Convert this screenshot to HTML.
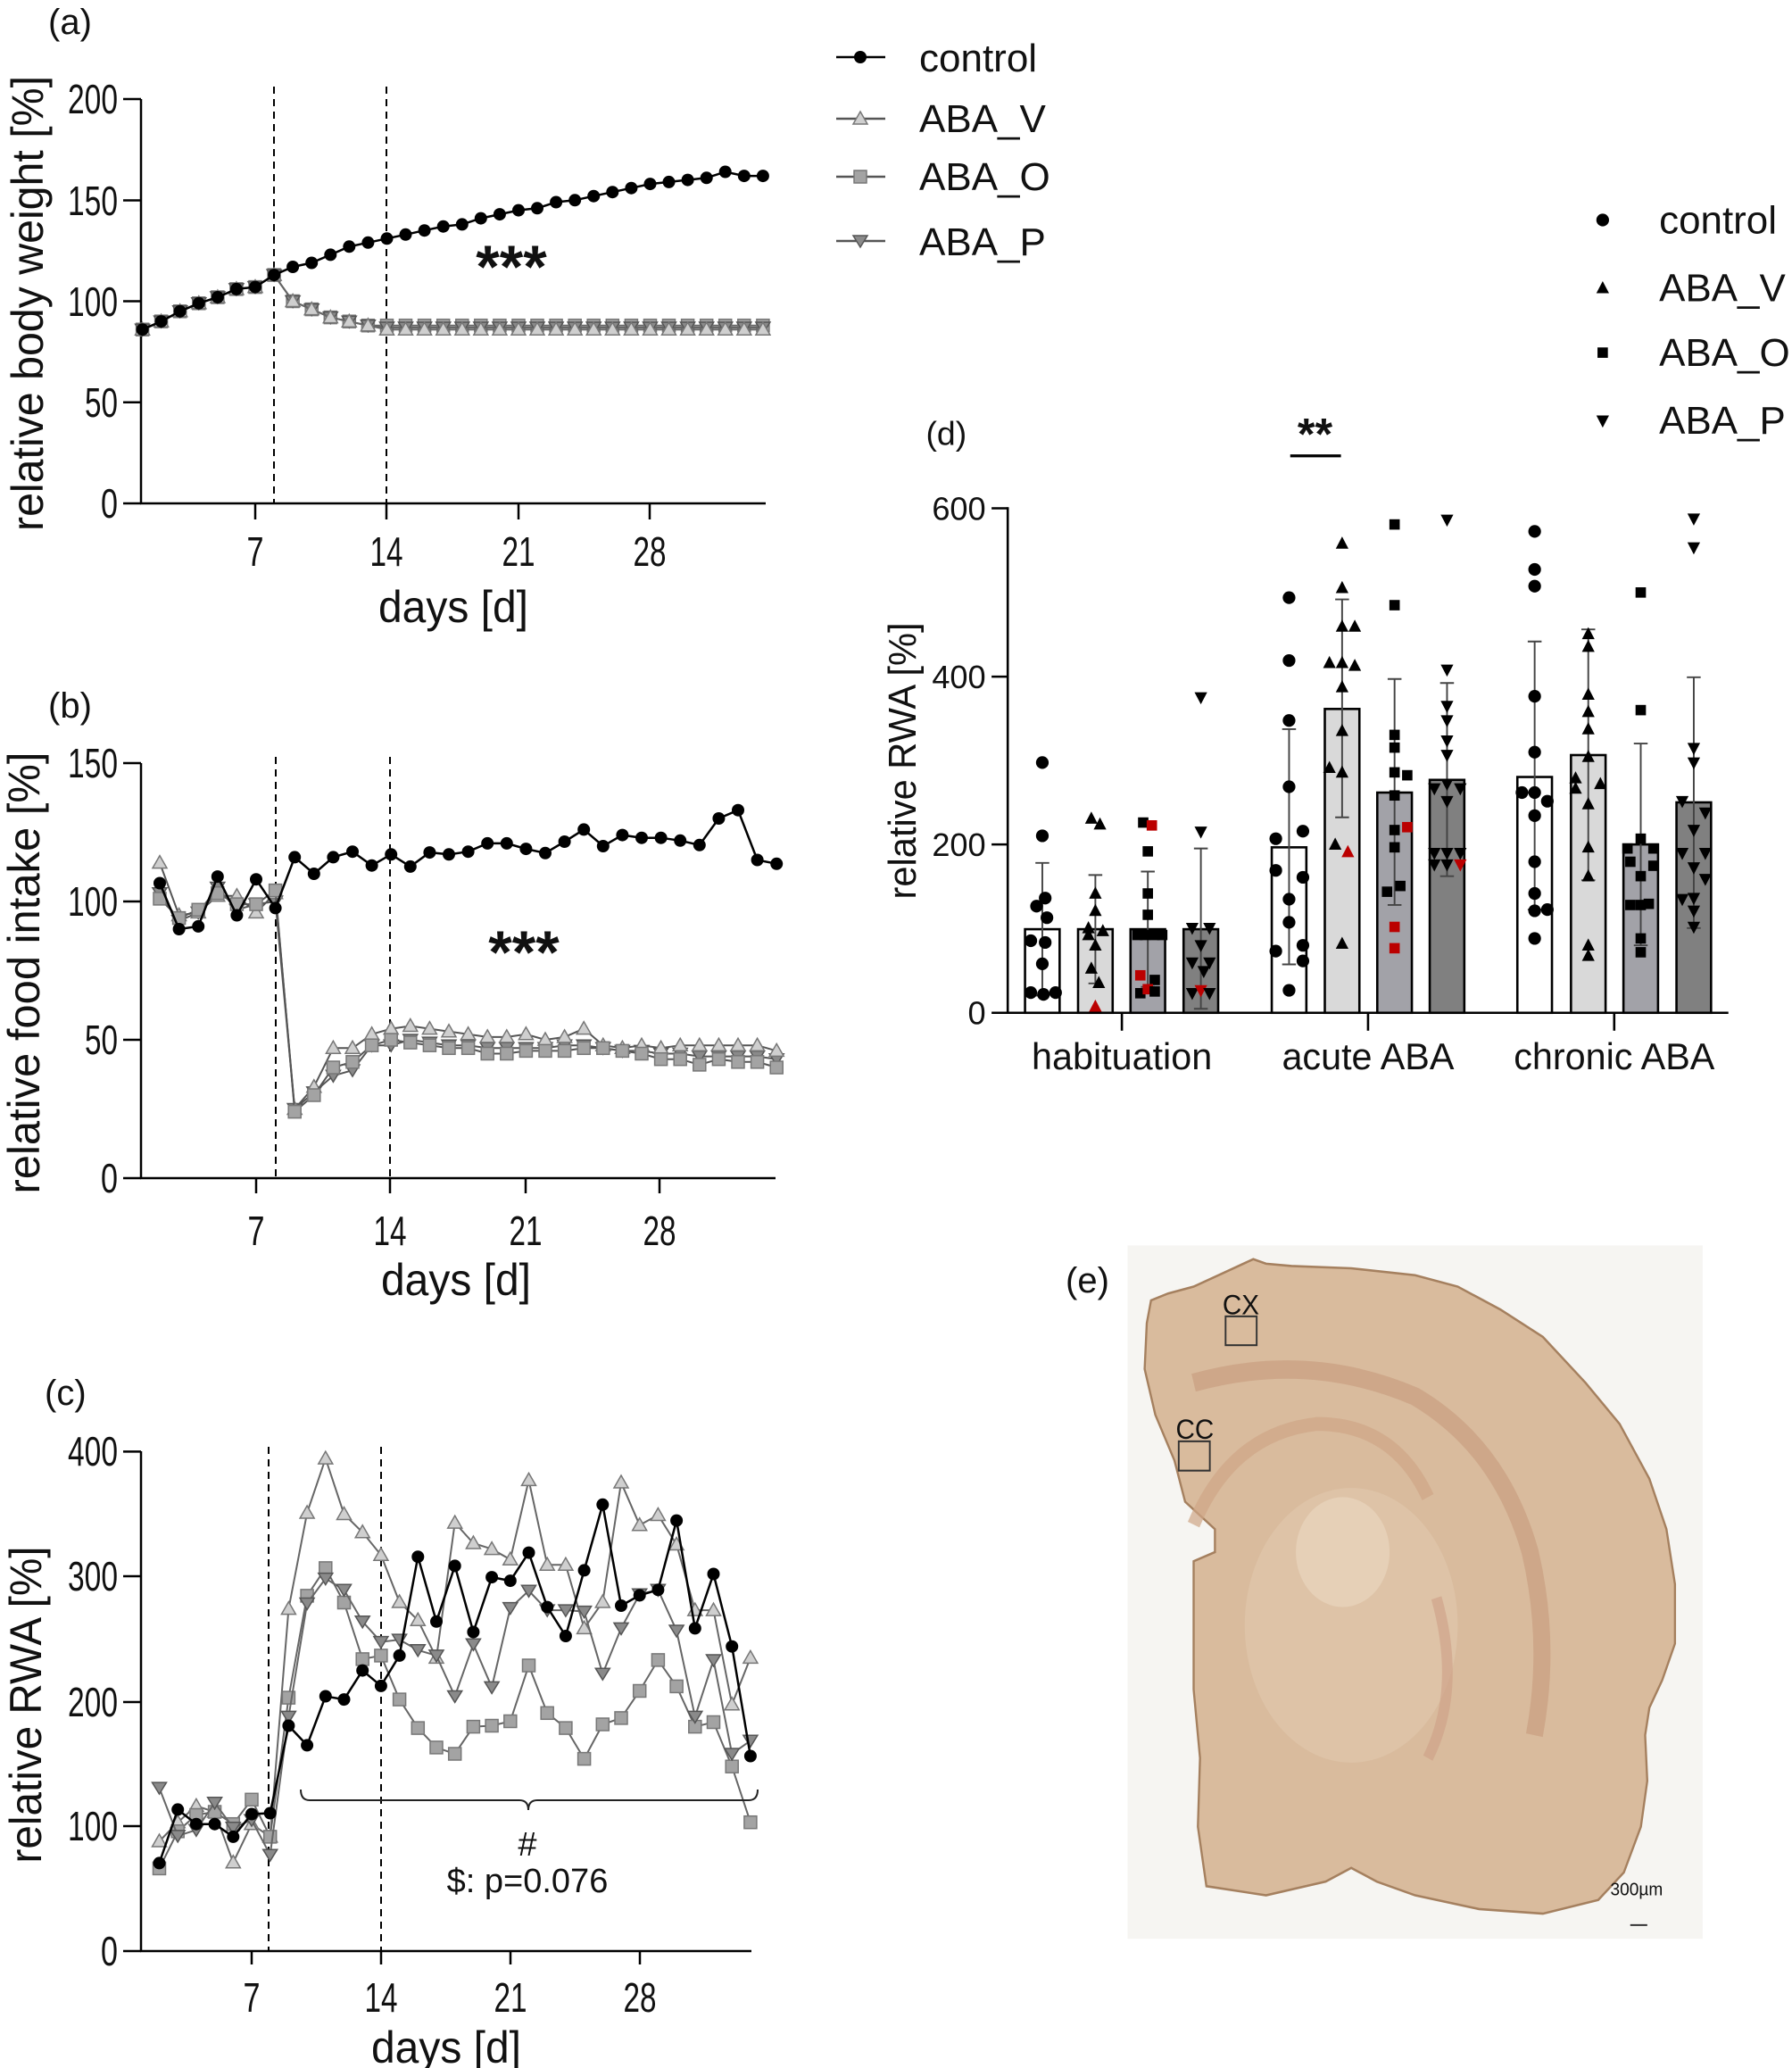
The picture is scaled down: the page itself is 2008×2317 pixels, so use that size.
<!DOCTYPE html>
<html><head><meta charset="utf-8"><style>
html,body{margin:0;padding:0;background:#fff;}
svg{display:block;}
text{font-family:"Liberation Sans",Arial,sans-serif;fill:#111;}
</style></head><body>
<svg width="2008" height="2317" viewBox="0 0 2008 2317" xmlns="http://www.w3.org/2000/svg">
<defs>
<marker id="mc" markerUnits="userSpaceOnUse" markerWidth="20" markerHeight="20" refX="10" refY="10"><circle cx="10" cy="10" r="7" fill="#000"/></marker>
<marker id="mv" markerUnits="userSpaceOnUse" markerWidth="20" markerHeight="20" refX="10" refY="10"><polygon points="10,2 18,16 2,16" fill="#cfcfcf" stroke="#777" stroke-width="1.5"/></marker>
<marker id="mo" markerUnits="userSpaceOnUse" markerWidth="20" markerHeight="20" refX="10" refY="10"><rect x="3" y="3" width="14" height="14" fill="#a3a3a3" stroke="#777" stroke-width="1.5"/></marker>
<marker id="mp" markerUnits="userSpaceOnUse" markerWidth="20" markerHeight="20" refX="10" refY="10"><polygon points="2,4 18,4 10,17" fill="#8a8a8a" stroke="#555" stroke-width="1.5"/></marker>
<circle id="dc" r="11" fill="#000"/>
<polygon id="dv" points="0,-12 11,9 -11,9" fill="#000"/>
<rect id="do" x="-9" y="-9" width="18" height="18" fill="#000"/>
<polygon id="dp" points="-11,-9 11,-9 0,12" fill="#000"/>
<polygon id="dvr" points="0,-12 11,9 -11,9" fill="#b00"/>
<rect id="dor" x="-9" y="-9" width="18" height="18" fill="#b00"/>
<polygon id="dpr" points="-11,-9 11,-9 0,12" fill="#b00"/>
</defs>

<!-- ===== Panel a ===== -->
<text x="54" y="38" font-size="40">(a)</text>
<g stroke="#000" stroke-width="2.5" fill="none">
<line x1="158" y1="111" x2="158" y2="565"/>
<line x1="157" y1="564" x2="858" y2="564"/>
<line x1="138" y1="111" x2="158" y2="111"/><line x1="138" y1="224.5" x2="158" y2="224.5"/><line x1="138" y1="337.5" x2="158" y2="337.5"/><line x1="138" y1="450.8" x2="158" y2="450.8"/><line x1="138" y1="564" x2="158" y2="564"/>
<line x1="286" y1="564" x2="286" y2="582"/><line x1="433" y1="564" x2="433" y2="582"/><line x1="581" y1="564" x2="581" y2="582"/><line x1="728" y1="564" x2="728" y2="582"/>
</g>
<g stroke="#000" stroke-width="2" stroke-dasharray="8,6"><line x1="307" y1="97" x2="307" y2="564"/><line x1="433" y1="97" x2="433" y2="564"/></g>
<g font-size="46" text-anchor="end" lengthAdjust="spacingAndGlyphs">
<text x="132" y="127" textLength="56" lengthAdjust="spacingAndGlyphs">200</text><text x="132" y="241" textLength="56" lengthAdjust="spacingAndGlyphs">150</text><text x="132" y="354" textLength="56" lengthAdjust="spacingAndGlyphs">100</text><text x="132" y="467" textLength="37" lengthAdjust="spacingAndGlyphs">50</text><text x="132" y="580" textLength="19" lengthAdjust="spacingAndGlyphs">0</text>
</g>
<g font-size="46" text-anchor="middle">
<text x="286" y="634" textLength="19" lengthAdjust="spacingAndGlyphs">7</text><text x="433" y="634" textLength="37" lengthAdjust="spacingAndGlyphs">14</text><text x="581" y="634" textLength="37" lengthAdjust="spacingAndGlyphs">21</text><text x="728" y="634" textLength="37" lengthAdjust="spacingAndGlyphs">28</text>
<text x="508" y="697" font-size="50" textLength="168" lengthAdjust="spacingAndGlyphs">days [d]</text>
</g>
<text x="0" y="0" font-size="50" text-anchor="middle" transform="translate(48,340) rotate(-90)" textLength="510" lengthAdjust="spacingAndGlyphs">relative body weight [%]</text>
<g fill="none" stroke="#666" stroke-width="2">
<polyline marker-start="url(#mo)" marker-mid="url(#mo)" marker-end="url(#mo)" points="159.6,369.2 180.6,360.1 201.7,348.8 222.8,339.8 243.9,333 264.9,323.9 286,321.6 307.1,308.1 328.1,337.5 349.2,346.6 370.3,355.6 391.3,360.2 412.4,364.7 433.5,364.7 454.5,364.7 475.6,364.7 496.7,364.7 517.8,364.7 538.8,364.7 559.9,364.7 581,364.7 602,364.7 623.1,364.7 644.2,364.7 665.2,364.7 686.3,364.7 707.4,364.7 728.5,364.7 749.5,364.7 770.6,364.7 791.7,364.7 812.7,364.7 833.8,364.7 854.9,364.7"/>
<polyline marker-start="url(#mp)" marker-mid="url(#mp)" marker-end="url(#mp)" points="159.6,369.2 180.6,360.1 201.7,348.8 222.8,339.8 243.9,333 264.9,323.9 286,321.6 307.1,308.1 328.1,337.5 349.2,346.6 370.3,355.6 391.3,360.2 412.4,364.7 433.5,367 454.5,367 475.6,367 496.7,367 517.8,367 538.8,367 559.9,367 581,367 602,367 623.1,367 644.2,367 665.2,367 686.3,367 707.4,367 728.5,367 749.5,367 770.6,367 791.7,367 812.7,367 833.8,367 854.9,367"/>
<polyline marker-start="url(#mv)" marker-mid="url(#mv)" marker-end="url(#mv)" points="159.6,369.2 180.6,360.1 201.7,348.8 222.8,339.8 243.9,333 264.9,323.9 286,321.6 307.1,308.1 328.1,337.5 349.2,346.6 370.3,355.6 391.3,360.2 412.4,364.7 433.5,369.2 454.5,369.2 475.6,369.2 496.7,369.2 517.8,369.2 538.8,369.2 559.9,369.2 581,369.2 602,369.2 623.1,369.2 644.2,369.2 665.2,369.2 686.3,369.2 707.4,369.2 728.5,369.2 749.5,369.2 770.6,369.2 791.7,369.2 812.7,369.2 833.8,369.2 854.9,369.2"/>
</g>
<polyline fill="none" stroke="#000" stroke-width="2.5" marker-start="url(#mc)" marker-mid="url(#mc)" marker-end="url(#mc)" points="159.6,369.2 180.6,360.1 201.7,348.8 222.8,339.8 243.9,333 264.9,323.9 286,321.6 307.1,308.1 328.1,299 349.2,294.5 370.3,285.4 391.3,276.3 412.4,271.8 433.5,267.3 454.5,262.8 475.6,258.2 496.7,253.7 517.8,251.4 538.8,244.6 559.9,240.1 581,235.6 602,233.3 623.1,226.5 644.2,224.3 665.2,219.7 686.3,215.2 707.4,210.7 728.5,206.1 749.5,203.9 770.6,201.6 791.7,199.3 812.7,192.5 833.8,197.1 854.9,197.1"/>
<text x="573" y="322" font-size="68" font-weight="bold" text-anchor="middle">***</text>

<!-- legend a -->
<g stroke-width="2.5" fill="none">
<polyline points="937,133 964,133 992,133" stroke="#555" marker-mid="url(#mv)"/>
<polyline points="937,198 964,198 992,198" stroke="#555" marker-mid="url(#mo)"/>
<polyline points="937,270 964,270 992,270" stroke="#555" marker-mid="url(#mp)"/>
<polyline points="937,64 964,64 992,64" stroke="#000" marker-mid="url(#mc)"/>
</g>
<g font-size="44"><text x="1030" y="80">control</text><text x="1030" y="148">ABA_V</text><text x="1030" y="213">ABA_O</text><text x="1030" y="286">ABA_P</text></g>

<!-- ===== Panel b ===== -->
<text x="54" y="804" font-size="40">(b)</text>
<g stroke="#000" stroke-width="2.5" fill="none">
<line x1="158" y1="855" x2="158" y2="1321"/>
<line x1="157" y1="1320" x2="869" y2="1320"/>
<line x1="138" y1="855" x2="158" y2="855"/><line x1="138" y1="1010" x2="158" y2="1010"/><line x1="138" y1="1165" x2="158" y2="1165"/><line x1="138" y1="1320" x2="158" y2="1320"/>
<line x1="287" y1="1320" x2="287" y2="1337"/><line x1="437" y1="1320" x2="437" y2="1337"/><line x1="589" y1="1320" x2="589" y2="1337"/><line x1="739" y1="1320" x2="739" y2="1337"/>
</g>
<g stroke="#000" stroke-width="2" stroke-dasharray="8,6"><line x1="309" y1="848" x2="309" y2="1320"/><line x1="437" y1="848" x2="437" y2="1320"/></g>
<g font-size="46" text-anchor="end">
<text x="132" y="871" textLength="56" lengthAdjust="spacingAndGlyphs">150</text><text x="132" y="1026" textLength="56" lengthAdjust="spacingAndGlyphs">100</text><text x="132" y="1181" textLength="37" lengthAdjust="spacingAndGlyphs">50</text><text x="132" y="1336" textLength="19" lengthAdjust="spacingAndGlyphs">0</text>
</g>
<g font-size="46" text-anchor="middle">
<text x="287" y="1395" textLength="19" lengthAdjust="spacingAndGlyphs">7</text><text x="437" y="1395" textLength="37" lengthAdjust="spacingAndGlyphs">14</text><text x="589" y="1395" textLength="37" lengthAdjust="spacingAndGlyphs">21</text><text x="739" y="1395" textLength="37" lengthAdjust="spacingAndGlyphs">28</text>
<text x="511" y="1451" font-size="50" textLength="168" lengthAdjust="spacingAndGlyphs">days [d]</text>
</g>
<text x="0" y="0" font-size="50" text-anchor="middle" transform="translate(44,1090) rotate(-90)" textLength="495" lengthAdjust="spacingAndGlyphs">relative food intake [%]</text>
<g fill="none" stroke="#555" stroke-width="2">
<polyline marker-start="url(#mp)" marker-mid="url(#mp)" marker-end="url(#mp)" points="179,1000.7 200.6,1031.7 222.2,1022.4 243.8,994.5 265.4,1019.3 287,1013.1 308.6,1010 330.2,1242.5 351.8,1223.9 373.4,1205.3 395,1199.1 416.6,1171.2 438.2,1171.2 459.8,1165 481.4,1168.1 503,1171.2 524.6,1171.2 546.2,1174.3 567.8,1174.3 589.4,1174.3 611,1174.3 632.6,1171.2 654.2,1171.2 675.8,1174.3 697.4,1177.4 719,1177.4 740.6,1180.5 762.2,1180.5 783.8,1183.6 805.4,1183.6 827,1183.6 848.6,1183.6 870.2,1186.7"/>
<polyline marker-start="url(#mv)" marker-mid="url(#mv)" marker-end="url(#mv)" points="179,966.6 200.6,1025.5 222.2,1022.4 243.8,1003.8 265.4,1003.8 287,1022.4 308.6,1000.7 330.2,1242.5 351.8,1217.7 373.4,1174.3 395,1174.3 416.6,1158.8 438.2,1152.6 459.8,1149.5 481.4,1152.6 503,1155.7 524.6,1158.8 546.2,1161.9 567.8,1161.9 589.4,1158.8 611,1165 632.6,1161.9 654.2,1152.6 675.8,1171.2 697.4,1174.3 719,1171.2 740.6,1174.3 762.2,1171.2 783.8,1171.2 805.4,1171.2 827,1171.2 848.6,1171.2 870.2,1177.4"/>
<polyline marker-start="url(#mo)" marker-mid="url(#mo)" marker-end="url(#mo)" points="179,1006.9 200.6,1028.6 222.2,1019.3 243.8,1000.7 265.4,1013.1 287,1013.1 308.6,997.6 330.2,1245.6 351.8,1227 373.4,1196 395,1189.8 416.6,1171.2 438.2,1165 459.8,1168.1 481.4,1171.2 503,1174.3 524.6,1174.3 546.2,1180.5 567.8,1180.5 589.4,1177.4 611,1177.4 632.6,1177.4 654.2,1174.3 675.8,1174.3 697.4,1177.4 719,1180.5 740.6,1186.7 762.2,1186.7 783.8,1192.9 805.4,1186.7 827,1189.8 848.6,1189.8 870.2,1196"/>
</g>
<polyline fill="none" stroke="#000" stroke-width="2.5" marker-start="url(#mc)" marker-mid="url(#mc)" marker-end="url(#mc)" points="179,989.5 200.6,1041 222.2,1037.9 243.8,982.1 265.4,1025.5 287,985.2 308.6,1017.4 330.2,960.4 351.8,979 373.4,960.4 395,954.2 416.6,969.7 438.2,957.3 459.8,970.9 481.4,955.1 503,957.3 524.6,954.2 546.2,944.9 567.8,944.9 589.4,951.1 611,955.8 632.6,943 654.2,929.4 675.8,948 697.4,935.6 719,938.7 740.6,938.7 762.2,941.8 783.8,946.8 805.4,917 827,907.7 848.6,963.5 870.2,967.8"/>
<text x="587" y="1090" font-size="68" font-weight="bold" text-anchor="middle">***</text>

<!-- ===== Panel c ===== -->
<text x="50" y="1574" font-size="40">(c)</text>
<g stroke="#000" stroke-width="2.5" fill="none">
<line x1="158" y1="1626" x2="158" y2="2187"/>
<line x1="157" y1="2186" x2="842" y2="2186"/>
<line x1="138" y1="1626.4" x2="158" y2="1626.4"/><line x1="138" y1="1766" x2="158" y2="1766"/><line x1="138" y1="1907" x2="158" y2="1907"/><line x1="138" y1="2046" x2="158" y2="2046"/><line x1="138" y1="2186" x2="158" y2="2186"/>
<line x1="282" y1="2186" x2="282" y2="2201"/><line x1="427" y1="2186" x2="427" y2="2201"/><line x1="572" y1="2186" x2="572" y2="2201"/><line x1="717" y1="2186" x2="717" y2="2201"/>
</g>
<g stroke="#000" stroke-width="2" stroke-dasharray="8,6"><line x1="301" y1="1621" x2="301" y2="2186"/><line x1="427" y1="1621" x2="427" y2="2186"/></g>
<g font-size="46" text-anchor="end">
<text x="132" y="1642" textLength="56" lengthAdjust="spacingAndGlyphs">400</text><text x="132" y="1782" textLength="56" lengthAdjust="spacingAndGlyphs">300</text><text x="132" y="1923" textLength="56" lengthAdjust="spacingAndGlyphs">200</text><text x="132" y="2062" textLength="56" lengthAdjust="spacingAndGlyphs">100</text><text x="132" y="2202" textLength="19" lengthAdjust="spacingAndGlyphs">0</text>
</g>
<g font-size="46" text-anchor="middle">
<text x="282" y="2254" textLength="19" lengthAdjust="spacingAndGlyphs">7</text><text x="427" y="2254" textLength="37" lengthAdjust="spacingAndGlyphs">14</text><text x="572" y="2254" textLength="37" lengthAdjust="spacingAndGlyphs">21</text><text x="717" y="2254" textLength="37" lengthAdjust="spacingAndGlyphs">28</text>
<text x="500" y="2311" font-size="50" textLength="168" lengthAdjust="spacingAndGlyphs">days [d]</text>
</g>
<text x="0" y="0" font-size="50" text-anchor="middle" transform="translate(46,1910) rotate(-90)" textLength="355" lengthAdjust="spacingAndGlyphs">relative RWA [%]</text>
<g fill="none" stroke="#666" stroke-width="2">
<polyline marker-start="url(#mv)" marker-mid="url(#mv)" marker-end="url(#mv)" points="178.5,2063 199.2,2041.7 219.9,2023.4 240.6,2030 261.3,2086.8 282,2043.7 302.7,2057.9 323.4,1802.6 344.1,1695 364.8,1634.1 385.5,1696.5 406.2,1716.8 426.9,1742.2 447.6,1795 468.3,1815.3 489,1857.4 509.7,1706.1 530.4,1729 551.1,1735.6 571.8,1747.3 592.5,1658.4 613.2,1753.3 633.9,1753.3 654.6,1824.4 675.3,1795 696,1661 716.7,1708.7 737.4,1697.5 758.1,1730.5 778.8,1804.1 799.5,1804.1 820.2,1909.7 840.9,1857.4"/>
<polyline marker-start="url(#mo)" marker-mid="url(#mo)" marker-end="url(#mo)" points="178.5,2093.4 199.2,2051.8 219.9,2033.5 240.6,2030 261.3,2043.7 282,2016.3 302.7,2057.9 323.4,1902.1 344.1,1787.9 364.8,1756.9 385.5,1795.5 406.2,1858.9 426.9,1854.9 447.6,1904.1 468.3,1936.1 489,1957.9 509.7,1965 530.4,1934.6 551.1,1933.5 571.8,1928.5 592.5,1866 613.2,1919.3 633.9,1936.1 654.6,1970.6 675.3,1932 696,1924.9 716.7,1894.5 737.4,1859.9 758.1,1889.4 778.8,1934.6 799.5,1929.5 820.2,1979.2 840.9,2041.7"/>
<polyline marker-start="url(#mp)" marker-mid="url(#mp)" marker-end="url(#mp)" points="178.5,2003.1 199.2,2056.9 219.9,2050.3 240.6,2019.8 261.3,2047.8 282,2039.1 302.7,2078.2 323.4,1923.4 344.1,1796.5 364.8,1768.6 385.5,1781.3 406.2,1816.8 426.9,1839.6 447.6,1837.1 468.3,1848.8 489,1854.9 509.7,1900.5 530.4,1842.2 551.1,1890.4 571.8,1801.6 592.5,1782.3 613.2,1804.1 633.9,1804.1 654.6,1805.6 675.3,1875.2 696,1824.4 716.7,1786.3 737.4,1781.3 758.1,1827 778.8,1923.4 799.5,1860 820.2,1965 840.9,1950.3"/>
</g>
<polyline fill="none" stroke="#000" stroke-width="2.5" marker-start="url(#mc)" marker-mid="url(#mc)" marker-end="url(#mc)" points="178.5,2087.4 199.2,2027.4 219.9,2043.7 240.6,2043.7 261.3,2057.9 282,2032.5 302.7,2031.5 323.4,1933.5 344.1,1955.4 364.8,1900.5 385.5,1904.1 406.2,1871.6 426.9,1888.9 447.6,1854.9 468.3,1744.2 489,1816.8 509.7,1754.4 530.4,1828.5 551.1,1767.1 571.8,1771.1 592.5,1739.6 613.2,1800.6 633.9,1833 654.6,1759.4 675.3,1685.8 696,1799 716.7,1787.4 737.4,1781.3 758.1,1703.6 778.8,1824.4 799.5,1763.5 820.2,1844.7 840.9,1967.5"/>
<path d="M337,2005 Q337,2017 347,2017 L582,2017 Q592,2017 592,2028 Q592,2017 602,2017 L839,2017 Q849,2017 849,2005" fill="none" stroke="#222" stroke-width="2"/>
<text x="591" y="2079" font-size="38" text-anchor="middle">#</text>
<text x="591" y="2120" font-size="38" text-anchor="middle">$: p=0.076</text>

<!-- ===== Panel d ===== -->
<g transform="translate(1000,200) scale(0.646)">
<text x="58" y="462" font-size="58">(d)</text>
<text x="733" y="470" font-size="78" font-weight="bold" text-anchor="middle">**</text>
<line x1="690" y1="481" x2="778" y2="481" stroke="#000" stroke-width="5"/>
<!-- legend d -->
<use href="#dc" x="1232" y="72"/><use href="#dv" x="1232" y="190"/><use href="#do" x="1232" y="302"/><use href="#dp" x="1232" y="420"/>
<g font-size="68"><text x="1330" y="95">control</text><text x="1330" y="213">ABA_V</text><text x="1330" y="325">ABA_O</text><text x="1330" y="443">ABA_P</text></g>
<!-- axes -->
<g stroke="#000" stroke-width="4" fill="none">
<line x1="200" y1="570" x2="200" y2="1449"/>
<line x1="172" y1="1447" x2="1450" y2="1447"/>
<line x1="172" y1="572" x2="200" y2="572"/><line x1="172" y1="864" x2="200" y2="864"/><line x1="172" y1="1155" x2="200" y2="1155"/>
<line x1="398" y1="1447" x2="398" y2="1478"/><line x1="825" y1="1447" x2="825" y2="1478"/><line x1="1252" y1="1447" x2="1252" y2="1478"/>
</g>
<g font-size="56" text-anchor="end"><text x="162" y="592">600</text><text x="162" y="884">400</text><text x="162" y="1175">200</text><text x="162" y="1467">0</text></g>
<g font-size="64" text-anchor="middle"><text x="398" y="1545">habituation</text><text x="825" y="1545">acute ABA</text><text x="1252" y="1545">chronic ABA</text></g>
<text x="0" y="0" font-size="68" text-anchor="middle" transform="translate(40,1010) rotate(-90)" textLength="480" lengthAdjust="spacingAndGlyphs">relative RWA [%]</text>
<!-- bars -->
<g stroke="#000" stroke-width="4">
<rect x="230" y="1302" width="60" height="145" fill="#fff"/>
<rect x="322" y="1302" width="60" height="145" fill="#d9d9d9"/>
<rect x="413" y="1302" width="60" height="145" fill="#a2a2a8"/>
<rect x="505" y="1302" width="60" height="145" fill="#808080"/>
<rect x="658" y="1160" width="60" height="287" fill="#fff"/>
<rect x="750" y="920" width="60" height="527" fill="#d9d9d9"/>
<rect x="841" y="1065" width="60" height="382" fill="#a2a2a8"/>
<rect x="932" y="1043" width="60" height="404" fill="#808080"/>
<rect x="1084" y="1038" width="60" height="409" fill="#fff"/>
<rect x="1177" y="1000" width="60" height="447" fill="#d9d9d9"/>
<rect x="1268" y="1155" width="60" height="292" fill="#a2a2a8"/>
<rect x="1360" y="1082" width="60" height="365" fill="#808080"/>
</g>
<!-- error bars -->
<g stroke="#444" stroke-width="3" fill="none">
<path d="M260,1187V1417M248,1187H272M248,1417H272"/>
<path d="M352,1208V1396M340,1208H364M340,1396H364"/>
<path d="M443,1202V1402M431,1202H455M431,1402H455"/>
<path d="M535,1162V1440M523,1162H547M523,1440H547"/>
<path d="M688,955V1363M676,955H700M676,1363H700"/>
<path d="M780,730V1108M768,730H792M768,1108H792"/>
<path d="M871,868V1260M859,868H883M859,1260H883"/>
<path d="M962,875V1210M950,875H974M950,1210H974"/>
<path d="M1114,803V1268M1102,803H1126M1102,1268H1126"/>
<path d="M1207,782V1217M1195,782H1219M1195,1217H1219"/>
<path d="M1298,980V1330M1286,980H1310M1286,1330H1310"/>
<path d="M1390,865V1300M1378,865H1402M1378,1300H1402"/>
</g>
<!-- points -->
<g>
<use href="#dc" x="260" y="1013"/><use href="#dc" x="260" y="1140"/><use href="#dc" x="265" y="1248"/><use href="#dc" x="250" y="1262"/><use href="#dc" x="268" y="1282"/><use href="#dc" x="240" y="1322"/><use href="#dc" x="265" y="1325"/><use href="#dc" x="260" y="1362"/><use href="#dc" x="240" y="1412"/><use href="#dc" x="262" y="1415"/><use href="#dc" x="283" y="1412"/>
<use href="#dv" x="345" y="1110"/><use href="#dv" x="360" y="1120"/><use href="#dv" x="352" y="1240"/><use href="#dv" x="352" y="1270"/><use href="#dv" x="340" y="1300"/><use href="#dv" x="365" y="1305"/><use href="#dv" x="352" y="1330"/><use href="#dv" x="345" y="1370"/><use href="#dv" x="358" y="1395"/><use href="#dvr" x="352" y="1436"/><use href="#dv" x="340" y="1312"/>
<use href="#do" x="435" y="1117"/><use href="#dor" x="450" y="1122"/><use href="#do" x="443" y="1167"/><use href="#do" x="443" y="1240"/><use href="#do" x="443" y="1277"/><use href="#do" x="425" y="1312"/><use href="#do" x="438" y="1312"/><use href="#do" x="455" y="1312"/><use href="#do" x="468" y="1312"/><use href="#dor" x="430" y="1382"/><use href="#do" x="455" y="1390"/><use href="#do" x="430" y="1413"/><use href="#dor" x="443" y="1406"/><use href="#do" x="455" y="1410"/>
<use href="#dp" x="535" y="900"/><use href="#dp" x="535" y="1133"/><use href="#dp" x="520" y="1300"/><use href="#dp" x="550" y="1300"/><use href="#dp" x="535" y="1330"/><use href="#dp" x="520" y="1360"/><use href="#dp" x="550" y="1360"/><use href="#dp" x="540" y="1375"/><use href="#dp" x="520" y="1413"/><use href="#dpr" x="535" y="1408"/><use href="#dp" x="550" y="1413"/>
<use href="#dc" x="688" y="727"/><use href="#dc" x="688" y="836"/><use href="#dc" x="688" y="940"/><use href="#dc" x="688" y="1055"/><use href="#dc" x="665" y="1145"/><use href="#dc" x="712" y="1132"/><use href="#dc" x="665" y="1200"/><use href="#dc" x="712" y="1212"/><use href="#dc" x="688" y="1250"/><use href="#dc" x="688" y="1290"/><use href="#dc" x="665" y="1340"/><use href="#dc" x="712" y="1330"/><use href="#dc" x="712" y="1357"/><use href="#dc" x="688" y="1408"/>
<use href="#dv" x="780" y="633"/><use href="#dv" x="780" y="710"/><use href="#dv" x="780" y="777"/><use href="#dv" x="802" y="777"/><use href="#dv" x="758" y="840"/><use href="#dv" x="780" y="840"/><use href="#dv" x="802" y="845"/><use href="#dv" x="780" y="882"/><use href="#dv" x="780" y="958"/><use href="#dv" x="758" y="1022"/><use href="#dv" x="780" y="1030"/><use href="#dv" x="768" y="1155"/><use href="#dvr" x="790" y="1168"/><use href="#dv" x="780" y="1327"/>
<use href="#do" x="871" y="600"/><use href="#do" x="871" y="740"/><use href="#do" x="871" y="965"/><use href="#do" x="871" y="987"/><use href="#do" x="871" y="1030"/><use href="#do" x="893" y="1035"/><use href="#do" x="871" y="1070"/><use href="#do" x="871" y="1130"/><use href="#dor" x="893" y="1125"/><use href="#do" x="871" y="1160"/><use href="#do" x="858" y="1237"/><use href="#do" x="881" y="1227"/><use href="#dor" x="871" y="1298"/><use href="#dor" x="871" y="1335"/>
<use href="#dp" x="962" y="592"/><use href="#dp" x="962" y="852"/><use href="#dp" x="962" y="915"/><use href="#dp" x="962" y="940"/><use href="#dp" x="962" y="975"/><use href="#dp" x="962" y="1000"/><use href="#dp" x="962" y="1050"/><use href="#dp" x="940" y="1058"/><use href="#dp" x="985" y="1058"/><use href="#dp" x="962" y="1080"/><use href="#dp" x="940" y="1170"/><use href="#dp" x="962" y="1170"/><use href="#dp" x="985" y="1170"/><use href="#dp" x="962" y="1190"/><use href="#dpr" x="985" y="1190"/><use href="#dp" x="940" y="1190"/>
<use href="#dc" x="1114" y="612"/><use href="#dc" x="1114" y="678"/><use href="#dc" x="1114" y="707"/><use href="#dc" x="1114" y="898"/><use href="#dc" x="1114" y="995"/><use href="#dc" x="1092" y="1065"/><use href="#dc" x="1114" y="1065"/><use href="#dc" x="1136" y="1080"/><use href="#dc" x="1114" y="1105"/><use href="#dc" x="1114" y="1185"/><use href="#dc" x="1114" y="1240"/><use href="#dc" x="1114" y="1270"/><use href="#dc" x="1136" y="1268"/><use href="#dc" x="1114" y="1318"/>
<use href="#dv" x="1207" y="790"/><use href="#dv" x="1207" y="812"/><use href="#dv" x="1207" y="895"/><use href="#dv" x="1207" y="925"/><use href="#dv" x="1207" y="955"/><use href="#dv" x="1207" y="1003"/><use href="#dv" x="1185" y="1040"/><use href="#dv" x="1228" y="1050"/><use href="#dv" x="1185" y="1058"/><use href="#dv" x="1207" y="1085"/><use href="#dv" x="1207" y="1160"/><use href="#dv" x="1207" y="1210"/><use href="#dv" x="1207" y="1330"/><use href="#dv" x="1207" y="1348"/>
<use href="#do" x="1298" y="718"/><use href="#do" x="1298" y="922"/><use href="#do" x="1298" y="1145"/><use href="#do" x="1275" y="1162"/><use href="#do" x="1320" y="1162"/><use href="#do" x="1280" y="1185"/><use href="#do" x="1320" y="1192"/><use href="#do" x="1298" y="1210"/><use href="#do" x="1298" y="1260"/><use href="#do" x="1280" y="1260"/><use href="#do" x="1312" y="1258"/><use href="#do" x="1298" y="1318"/><use href="#do" x="1298" y="1342"/>
<use href="#dp" x="1390" y="590"/><use href="#dp" x="1390" y="640"/><use href="#dp" x="1390" y="988"/><use href="#dp" x="1390" y="1013"/><use href="#dp" x="1370" y="1080"/><use href="#dp" x="1410" y="1100"/><use href="#dp" x="1390" y="1130"/><use href="#dp" x="1370" y="1170"/><use href="#dp" x="1410" y="1170"/><use href="#dp" x="1390" y="1195"/><use href="#dp" x="1410" y="1215"/><use href="#dp" x="1390" y="1248"/><use href="#dp" x="1370" y="1250"/><use href="#dp" x="1390" y="1270"/><use href="#dp" x="1390" y="1298"/>
</g>
</g>

<!-- ===== Panel e ===== -->
<text x="1194" y="1448" font-size="40">(e)</text>
<g transform="translate(1180,1380) scale(0.4773,0.5128)">
<rect x="175" y="30" width="1350" height="1515" fill="#f6f5f2"/>
<path d="M230,150 L270,135 330,120 400,90 470,60 500,70 560,75 700,80 850,95 950,120 1050,170 1150,230 1250,330 1330,420 1400,540 1440,650 1460,770 1460,900 1430,980 1400,1040 1390,1100 1395,1200 1380,1300 1340,1400 1280,1460 1150,1490 1000,1480 850,1450 760,1420 700,1390 640,1420 500,1450 360,1430 340,1300 345,1150 330,1000 330,800 330,720 380,700 380,650 310,590 285,500 240,400 215,300 220,200 Z" fill="#d9bb9d" stroke="#a5805f" stroke-width="5"/>
<path d="M330,330 Q600,260 850,360 Q1050,470 1120,700 Q1170,900 1130,1100" fill="none" stroke="#c99e80" stroke-width="40" opacity="0.7"/>
<path d="M330,640 Q420,440 620,420 Q800,420 880,580" fill="none" stroke="#cfa586" stroke-width="30" opacity="0.7"/>
<ellipse cx="700" cy="860" rx="250" ry="300" fill="#dfc6aa" opacity="0.8"/>
<ellipse cx="680" cy="700" rx="110" ry="120" fill="#e7d3bc" opacity="0.8"/>
<path d="M900,800 Q960,1000 880,1150" fill="none" stroke="#cd9f86" stroke-width="25" opacity="0.6"/>
<g fill="none" stroke="#333" stroke-width="4">
<rect x="405" y="185" width="73" height="63"/>
<rect x="295" y="458" width="73" height="64"/>
<line x1="1355" y1="1515" x2="1395" y2="1515"/>
</g>
<text x="441" y="180" font-size="62" text-anchor="middle">CX</text>
<text x="333" y="452" font-size="62" text-anchor="middle">CC</text>
<text x="1370" y="1450" font-size="40" text-anchor="middle" fill="#222">300µm</text>
</g>
</svg>
</body></html>
